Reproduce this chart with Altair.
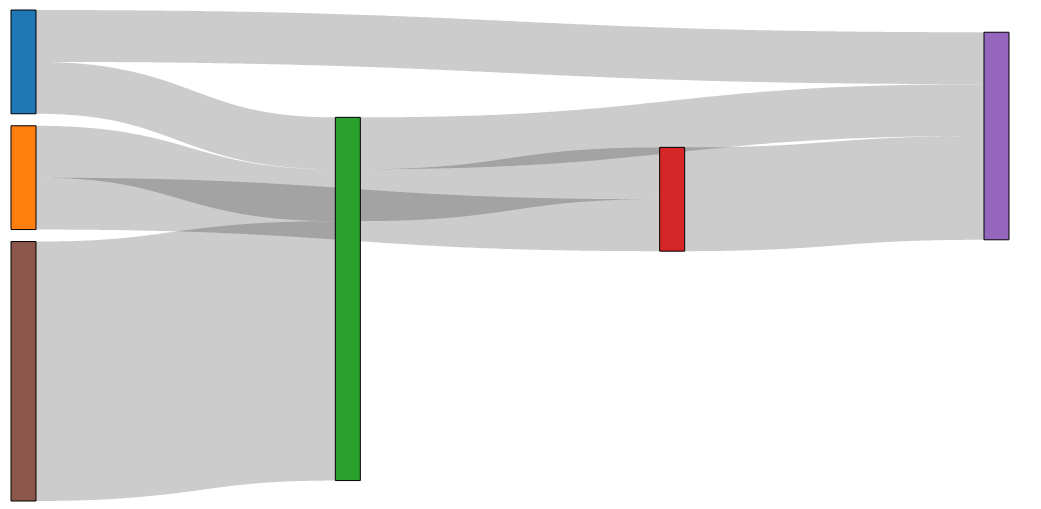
import math
from functools import cmp_to_key

import altair as alt
import numpy as np
import pandas as pd

# ---------------- data ----------------
NODES = ["A", "B", "C", "D", "E", "F"]
LINK_SOURCE = ["A", "A", "B", "B", "C", "C", "D", "F"]
LINK_TARGET = ["E", "C", "C", "D", "E", "D", "E", "C"]
LINK_VALUE = [1, 1, 1, 1, 1, 1, 2, 5]

# ---------------- style / layout parameters ----------------
COLORS = ["#1f77b4", "#ff7f0e", "#2ca02c", "#d62728", "#9467bd", "#8c564b"]
W, H = 1041, 509
EXT_X0, EXT_Y0, EXT_X1, EXT_Y1 = 11, 10, 1009, 501
NODE_W = 25
NODE_PAD = 12
ITERATIONS = 6


class Node:
    pass


class Link:
    pass


def sankey_layout():
    nodes = []
    by = {}
    for i, nm in enumerate(NODES):
        n = Node()
        n.name, n.index = nm, i
        n.sourceLinks, n.targetLinks = [], []
        n.y0 = float("nan")
        n.y1 = float("nan")
        nodes.append(n)
        by[nm] = n
    links = []
    for i, (s, t, v) in enumerate(zip(LINK_SOURCE, LINK_TARGET, LINK_VALUE)):
        l = Link()
        l.index, l.source, l.target, l.value = i, by[s], by[t], v
        links.append(l)
        by[s].sourceLinks.append(l)
        by[t].targetLinks.append(l)
    for n in nodes:
        n.value = max(sum(l.value for l in n.sourceLinks),
                      sum(l.value for l in n.targetLinks))
    # depths
    current = list(nodes)
    depth = 0
    while current:
        nxt = []
        for n in current:
            n.depth = depth
            for l in n.sourceLinks:
                if l.target not in nxt:
                    nxt.append(l.target)
        depth += 1
        current = nxt
    ncol = max(n.depth for n in nodes) + 1
    kx = (EXT_X1 - EXT_X0 - NODE_W) / (ncol - 1)
    columns = [[] for _ in range(ncol)]
    for n in nodes:
        layer = n.depth if n.sourceLinks else ncol - 1
        layer = max(0, min(ncol - 1, layer))
        n.layer = layer
        n.x0 = EXT_X0 + layer * kx
        n.x1 = n.x0 + NODE_W
        columns[layer].append(n)

    py = min(NODE_PAD, (EXT_Y1 - EXT_Y0) / (max(len(c) for c in columns) - 1))

    def cmp_num(d, a, b):
        if d != d or d == 0:
            return a.index - b.index
        return d

    def asc_target(a, b):
        return cmp_num(a.target.y0 - b.target.y0, a, b)

    def asc_source(a, b):
        return cmp_num(a.source.y0 - b.source.y0, a, b)

    def reorder_links(col):
        for n in col:
            n.sourceLinks.sort(key=cmp_to_key(asc_target))
            n.targetLinks.sort(key=cmp_to_key(asc_source))

    def reorder_node_links(n):
        for l in n.targetLinks:
            l.source.sourceLinks.sort(key=cmp_to_key(asc_target))
        for l in n.sourceLinks:
            l.target.targetLinks.sort(key=cmp_to_key(asc_source))

    ky = min((EXT_Y1 - EXT_Y0 - (len(c) - 1) * py) / sum(n.value for n in c)
             for c in columns)
    for c in columns:
        y = EXT_Y0
        for n in c:
            n.y0 = y
            n.y1 = y + n.value * ky
            y = n.y1 + py
            for l in n.sourceLinks:
                l.width = l.value * ky
        y = (EXT_Y1 - y + py) / (len(c) + 1)
        for i, n in enumerate(c):
            n.y0 += y * (i + 1)
            n.y1 += y * (i + 1)
        reorder_links(c)

    def target_top(source, target):
        y = source.y0 - (len(source.sourceLinks) - 1) * py / 2
        for l in source.sourceLinks:
            if l.target is target:
                break
            y += l.width + py
        for l in target.targetLinks:
            if l.source is source:
                break
            y -= l.width
        return y

    def source_top(source, target):
        y = target.y0 - (len(target.targetLinks) - 1) * py / 2
        for l in target.targetLinks:
            if l.source is source:
                break
            y += l.width + py
        for l in source.sourceLinks:
            if l.target is target:
                break
            y -= l.width
        return y

    def res_top_bottom(col, y, i, alpha):
        while i < len(col):
            n = col[i]
            dy = (y - n.y0) * alpha
            if dy > 1e-6:
                n.y0 += dy
                n.y1 += dy
            y = n.y1 + py
            i += 1

    def res_bottom_top(col, y, i, alpha):
        while i >= 0:
            n = col[i]
            dy = (n.y1 - y) * alpha
            if dy > 1e-6:
                n.y0 -= dy
                n.y1 -= dy
            y = n.y0 - py
            i -= 1

    def resolve(col, alpha):
        i = len(col) >> 1
        subj = col[i]
        res_bottom_top(col, subj.y0 - py, i - 1, alpha)
        res_top_bottom(col, subj.y1 + py, i + 1, alpha)
        res_bottom_top(col, EXT_Y1, len(col) - 1, alpha)
        res_top_bottom(col, EXT_Y0, 0, alpha)

    def relax_lr(alpha, beta):
        for i in range(1, len(columns)):
            col = columns[i]
            for tgt in col:
                y = 0.0
                w = 0.0
                for l in tgt.targetLinks:
                    v = l.value * (tgt.layer - l.source.layer)
                    y += target_top(l.source, tgt) * v
                    w += v
                if not (w > 0):
                    continue
                dy = (y / w - tgt.y0) * alpha
                tgt.y0 += dy
                tgt.y1 += dy
                reorder_node_links(tgt)
            col.sort(key=lambda n: n.y0)
            resolve(col, beta)

    def relax_rl(alpha, beta):
        for i in range(len(columns) - 2, -1, -1):
            col = columns[i]
            for src in col:
                y = 0.0
                w = 0.0
                for l in src.sourceLinks:
                    v = l.value * (l.target.layer - src.layer)
                    y += source_top(src, l.target) * v
                    w += v
                if not (w > 0):
                    continue
                dy = (y / w - src.y0) * alpha
                src.y0 += dy
                src.y1 += dy
                reorder_node_links(src)
            col.sort(key=lambda n: n.y0)
            resolve(col, beta)

    for it in range(ITERATIONS):
        alpha = 0.99 ** it
        beta = max(1 - alpha, (it + 1) / ITERATIONS)
        relax_rl(alpha, beta)
        relax_lr(alpha, beta)

    for n in nodes:
        ya = n.y0
        yb = n.y0
        for l in n.sourceLinks:
            l.y0 = ya + l.width / 2
            ya += l.width
        for l in n.targetLinks:
            l.y1 = yb + l.width / 2
            yb += l.width
    return nodes, links


nodes, links = sankey_layout()

node_df = pd.DataFrame({
    "name": [n.name for n in nodes],
    "x0": [n.x0 for n in nodes],
    "x1": [n.x1 for n in nodes],
    "y0": [n.y0 for n in nodes],
    "y1": [n.y1 for n in nodes],
})

rows = []
t = np.linspace(0, 1, 241)
for l in links:
    xa, xb = l.source.x1, l.target.x0
    xm = (xa + xb) / 2
    ya, yb = l.y0, l.y1
    bx = (1 - t) ** 3 * xa + 3 * (1 - t) ** 2 * t * xm + 3 * (1 - t) * t ** 2 * xm + t ** 3 * xb
    byy = (1 - t) ** 3 * ya + 3 * (1 - t) ** 2 * t * ya + 3 * (1 - t) * t ** 2 * yb + t ** 3 * yb
    dx = 3 * (1 - t) ** 2 * (xm - xa) + 3 * t ** 2 * (xb - xm)
    dy = 6 * (1 - t) * t * (yb - ya)
    nrm = np.hypot(dx, dy)
    nx, ny = -dy / nrm, dx / nrm
    hw = l.width / 2
    top_x, top_y = bx - nx * hw, byy - ny * hw
    bot_x, bot_y = bx + nx * hw, byy + ny * hw
    grid = np.linspace(xa, xb, 241)
    ty = np.interp(grid, top_x, top_y)
    by2 = np.interp(grid, bot_x, bot_y)
    for gx, a, b in zip(grid, ty, by2):
        rows.append({"link": f"{l.source.name}-{l.target.name}", "x": gx, "yt": a, "yb": b})
link_df = pd.DataFrame(rows)

xs = alt.Scale(domain=[0, W], nice=False, zero=False)
ys = alt.Scale(domain=[0, H], nice=False, zero=False, reverse=True)

link_layer = alt.Chart(link_df).mark_area(color="#000", opacity=0.2).encode(
    x=alt.X("x:Q", scale=xs, axis=None),
    y=alt.Y("yt:Q", scale=ys, axis=None, stack=None),
    y2="yb:Q",
    detail="link:N",
)

node_layer = alt.Chart(node_df).mark_rect(stroke="#000", strokeWidth=1).encode(
    x=alt.X("x0:Q", scale=xs, axis=None),
    x2="x1:Q",
    y=alt.Y("y0:Q", scale=ys, axis=None),
    y2="y1:Q",
    fill=alt.Fill("name:N", scale=alt.Scale(domain=NODES, range=COLORS), legend=None),
)

chart = alt.layer(link_layer, node_layer).properties(
    width=W, height=H, autosize="none", padding=0
).configure_view(stroke=None)

chart.save("out.html", embed_options={"renderer": "svg", "actions": False})
